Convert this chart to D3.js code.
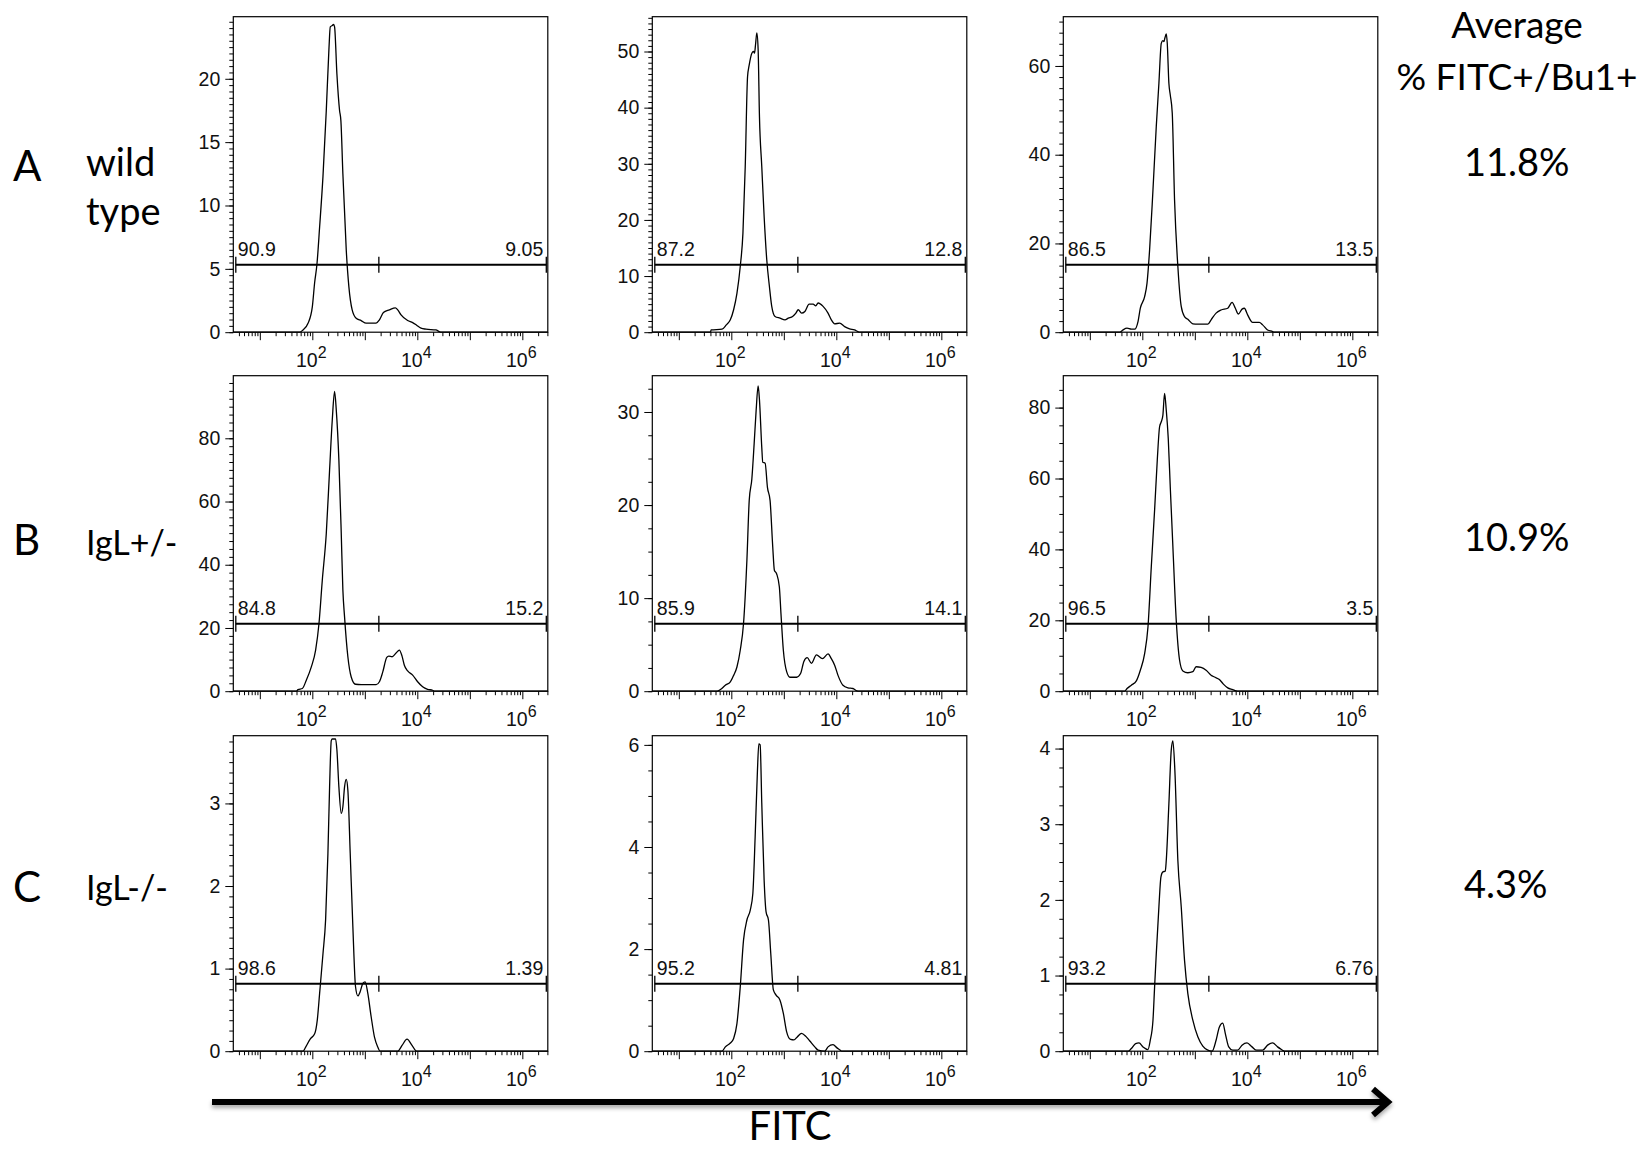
<!DOCTYPE html>
<html>
<head>
<meta charset="utf-8">
<script src="https://cdn.jsdelivr.net/npm/d3@7"></script>
<style>
  html, body { margin: 0; padding: 0; background: #fff; }
  svg { display: block; }
</style>
</head>
<body>
<svg id="fig" width="1641" height="1149"></svg>
<script>
// ---------- data ----------
// Histogram traces: FITC intensity (log10) and cell count, one pair per sample.
// Row A: wild type
const a1Log = [1.76, 1.823, 1.918, 2.0, 2.044, 2.089, 2.139, 2.203, 2.266, 2.316, 2.342, 2.380, 2.405, 2.424, 2.468, 2.519, 2.544, 2.582, 2.646, 2.696, 2.759, 2.835, 2.930, 3.025, 3.215, 3.278, 3.354, 3.468, 3.582, 3.627, 3.690, 3.816, 3.911, 3.987, 4.070, 4.165, 4.354, 4.418, 4.45];
const a1Count = [0, 0.18, 0.7, 2.0, 3.9, 5.4, 8.3, 12.3, 17.5, 22.3, 24.1, 24.2, 24.3, 24.1, 20.4, 17.5, 16.7, 12.5, 6.5, 3.6, 1.76, 1.1, 0.92, 0.71, 0.71, 0.97, 1.55, 1.76, 1.92, 1.76, 1.37, 0.92, 0.76, 0.55, 0.32, 0.24, 0.18, 0.05, 0];
const a2Log = [1.603, 1.615, 1.823, 1.905, 1.981, 2.044, 2.107, 2.170, 2.221, 2.265, 2.309, 2.341, 2.391, 2.423, 2.442, 2.461, 2.486, 2.511, 2.536, 2.580, 2.625, 2.675, 2.726, 2.770, 2.833, 2.927, 3.022, 3.085, 3.167, 3.230, 3.274, 3.338, 3.401, 3.483, 3.558, 3.609, 3.653, 3.748, 3.842, 3.905, 3.968, 4.063, 4.158, 4.252, 4.347, 4.410, 4.44];
const a2Count = [0, 0.42, 0.53, 1.3, 2.2, 4.0, 6.9, 11.7, 17.6, 29.5, 45.5, 47.6, 49.7, 50.0, 49.7, 51.2, 53.3, 50.3, 38.4, 29.5, 20.6, 12.9, 8.1, 4.6, 2.8, 2.5, 2.2, 2.5, 2.8, 3.4, 4.0, 3.4, 3.7, 5.0, 5.0, 4.7, 5.2, 4.6, 3.4, 2.2, 1.5, 1.6, 1.0, 0.6, 0.4, 0.1, 0];
const a3Log = [1.57, 1.633, 1.709, 1.791, 1.854, 1.918, 1.962, 2.044, 2.089, 2.139, 2.203, 2.266, 2.316, 2.361, 2.392, 2.411, 2.430, 2.456, 2.475, 2.506, 2.532, 2.570, 2.614, 2.677, 2.741, 2.804, 2.867, 2.962, 3.057, 3.247, 3.310, 3.405, 3.5, 3.627, 3.709, 3.772, 3.829, 3.899, 3.943, 4.006, 4.101, 4.228, 4.291, 4.386, 4.481, 4.51];
const a3Count = [0, 0.53, 0.9, 0.68, 0.68, 2.4, 5.4, 8.0, 11.0, 18.6, 32.1, 46.4, 56.1, 65.1, 65.7, 65.5, 66.3, 67.2, 65.1, 56.1, 53.5, 49.4, 29.8, 14.8, 5.8, 3.5, 2.9, 1.9, 1.8, 1.8, 2.8, 4.3, 5.0, 5.4, 6.7, 5.4, 4.1, 5.2, 5.4, 3.9, 2.2, 2.2, 1.65, 0.5, 0.15, 0];
// Row B: IgL+/-
const b1Log = [1.696, 1.728, 1.81, 1.886, 1.981, 2.063, 2.127, 2.19, 2.266, 2.329, 2.38, 2.424, 2.456, 2.506, 2.551, 2.582, 2.614, 2.677, 2.741, 2.823, 2.93, 3.215, 3.278, 3.342, 3.418, 3.456, 3.519, 3.595, 3.658, 3.709, 3.753, 3.816, 3.911, 4.006, 4.101, 4.196, 4.291, 4.33];
const b1Count = [0, 0.5, 0.85, 3.5, 7.7, 13.0, 21.4, 35.1, 49.9, 70.0, 85.8, 94.8, 89.0, 73.1, 49.9, 32.0, 23.5, 10.9, 4.5, 2.2, 2.1, 2.1, 3.0, 6.1, 10.7, 11.1, 10.9, 12.1, 13.0, 11.1, 8.2, 6.4, 5.1, 3.0, 1.4, 0.6, 0.3, 0];
const b2Log = [1.729, 1.792, 1.886, 1.981, 2.044, 2.107, 2.170, 2.233, 2.297, 2.341, 2.391, 2.435, 2.473, 2.511, 2.536, 2.58, 2.599, 2.644, 2.688, 2.738, 2.789, 2.82, 2.864, 2.915, 2.946, 2.991, 3.054, 3.117, 3.243, 3.319, 3.382, 3.445, 3.527, 3.621, 3.735, 3.842, 3.905, 3.968, 4.032, 4.126, 4.221, 4.315, 4.391, 4.42];
const b2Count = [0, 0.18, 0.64, 1.0, 1.7, 2.6, 4.4, 7.3, 14.1, 20.5, 22.8, 26.6, 30.2, 32.8, 31.3, 26.2, 24.6, 24.5, 21.9, 20.5, 15.5, 13.0, 12.6, 11.2, 8.3, 4.4, 2.1, 1.5, 1.5, 1.9, 3.2, 3.6, 3.0, 3.9, 3.5, 4.0, 3.5, 2.8, 1.7, 0.64, 0.36, 0.29, 0.04, 0];
const b3Log = [1.665, 1.709, 1.791, 1.886, 1.962, 2.044, 2.108, 2.171, 2.234, 2.285, 2.329, 2.361, 2.392, 2.424, 2.456, 2.494, 2.532, 2.582, 2.646, 2.709, 2.772, 2.867, 2.962, 3.025, 3.12, 3.215, 3.31, 3.373, 3.468, 3.544, 3.627, 3.722, 3.785, 3.82];
const b3Count = [0, 0.75, 1.7, 2.9, 5.9, 10.6, 18.2, 35.1, 51.1, 65.2, 74.6, 76.0, 77.9, 84.0, 79.3, 71.3, 57.7, 40.8, 20.0, 8.8, 5.7, 5.2, 5.5, 6.9, 6.7, 5.9, 4.5, 4.0, 3.3, 2.0, 0.94, 0.47, 0.1, 0];
// Row C: IgL-/-
const c1Log = [1.823, 1.873, 1.962, 2.044, 2.095, 2.139, 2.203, 2.253, 2.297, 2.329, 2.361, 2.38, 2.443, 2.468, 2.506, 2.551, 2.582, 2.614, 2.646, 2.677, 2.722, 2.772, 2.823, 2.867, 2.911, 2.962, 3.006, 3.057, 3.12, 3.184, 3.247, 3.291, 3.627, 3.709, 3.804, 3.899, 3.987];
const c1Count = [0, 0.05, 0.15, 0.21, 0.38, 0.70, 1.18, 1.59, 2.39, 3.20, 3.76, 3.78, 3.78, 3.65, 3.20, 2.88, 2.96, 3.20, 3.29, 3.16, 2.39, 1.51, 0.78, 0.67, 0.72, 0.82, 0.84, 0.70, 0.42, 0.17, 0.05, 0, 0, 0.07, 0.145, 0.07, 0];
const c2Log = [1.823, 1.886, 1.981, 2.044, 2.107, 2.170, 2.233, 2.297, 2.36, 2.41, 2.454, 2.498, 2.524, 2.549, 2.58, 2.625, 2.662, 2.707, 2.751, 2.801, 2.852, 2.927, 2.991, 3.054, 3.129, 3.192, 3.256, 3.338, 3.42, 3.495, 3.59, 3.653, 3.779, 3.842, 3.937, 4.013, 4.076, 4.10];
const c2Count = [0, 0.085, 0.16, 0.25, 0.54, 1.26, 2.18, 2.57, 2.76, 3.09, 4.20, 5.51, 6.02, 6.0, 4.86, 3.35, 2.73, 2.57, 1.92, 1.20, 1.10, 1.0, 0.74, 0.38, 0.23, 0.22, 0.28, 0.35, 0.29, 0.20, 0.085, 0.02, 0, 0.085, 0.13, 0.065, 0.02, 0];
const c3Log = [1.728, 1.791, 1.873, 1.937, 2.013, 2.108, 2.152, 2.203, 2.234, 2.266, 2.316, 2.354, 2.392, 2.437, 2.456, 2.506, 2.551, 2.582, 2.62, 2.677, 2.741, 2.804, 2.867, 2.962, 3.057, 3.152, 3.247, 3.329, 3.405, 3.468, 3.532, 3.582, 3.646, 3.722, 3.816, 3.899, 3.994, 4.089, 4.177, 4.291, 4.386, 4.481, 4.576, 4.671, 4.70];
const c3Count = [0, 0.035, 0.10, 0.11, 0.057, 0.022, 0.145, 0.41, 0.85, 1.29, 1.91, 2.30, 2.37, 2.38, 2.52, 3.27, 3.98, 4.10, 3.71, 2.52, 1.91, 1.20, 0.76, 0.41, 0.19, 0.066, 0.013, 0, 0.145, 0.32, 0.37, 0.23, 0.057, 0.013, 0.013, 0.08, 0.11, 0.057, 0.013, 0.013, 0.08, 0.11, 0.057, 0.013, 0];

// Y-axis range, major and minor tick steps per panel (rows A, B, C)
const yMaxes    = [[24.9, 56.2, 71.1], [99.8, 33.9, 89.0], [3.82, 6.18, 4.17]];
const yMajor    = [[5, 10, 20], [20, 10, 20], [1, 2, 1]];
const yMinor    = [[0.5, 1, 2.5], [2.5, 2.5, 5], [0.125, 0.5, 0.25]];

// Gate: split point on FITC and the % of events on each side
const gateSplit = 1850;
const gateLow   = [["90.9", "87.2", "86.5"], ["84.8", "85.9", "96.5"], ["98.6", "95.2", "93.2"]];
const gateHigh  = [["9.05", "12.8", "13.5"], ["15.2", "14.1", "3.5"], ["1.39", "4.81", "6.76"]];

// Row annotations
const rowLetters   = ["A", "B", "C"];
const genotypes    = [["wild", "type"], ["IgL+/-"], ["IgL-/-"]];
const averageTitle = ["Average", "% FITC+/Bu1+"];
const averages     = ["11.8%", "10.9%", "4.3%"];
const axisTitle    = "FITC";
const xLabelPowers = [2, 4, 6];
const xDecades     = [1, 2, 3, 4, 5, 6];
const xDomainLog   = [0.495, 6.485];

const traces = [
  [[a1Log, a1Count], [a2Log, a2Count], [a3Log, a3Count]],
  [[b1Log, b1Count], [b2Log, b2Count], [b3Log, b3Count]],
  [[c1Log, c1Count], [c2Log, c2Count], [c3Log, c3Count]]
];

// ---------- layout ----------
const colLeft = [233.3, 652.3, 1063.3];
const rowTop  = [16.7, 375.7, 735.7];
const plotW = 314.5, plotH = 315.5;
const gateRaise = 67.5;          // gate bar height above the x axis (px)
const tickFont = "'Liberation Sans', Arial, sans-serif";
const labelFont = "Lato, 'Open Sans', sans-serif";

const svg = d3.select("#fig");

const defs = svg.append("defs");
const shadow = defs.append("filter").attr("id", "arrowShadow")
  .attr("x", "-5%").attr("y", "-200%").attr("width", "110%").attr("height", "500%");
shadow.append("feDropShadow").attr("dx", 0).attr("dy", 3).attr("stdDeviation", 2)
  .attr("flood-color", "#000").attr("flood-opacity", 0.35);

const x = d3.scaleLog()
  .domain(xDomainLog.map(v => Math.pow(10, v)))
  .range([0, plotW]);

// minor log ticks (2..9 x 10^k) inside the domain
const xMinorTicks = [];
for (let e = 0; e <= 6; e++) {
  for (let k = 2; k <= 9; k++) {
    const v = k * Math.pow(10, e);
    if (v >= x.domain()[0] && v <= x.domain()[1]) xMinorTicks.push(v);
  }
}

function drawPanel(r, c) {
  const [logs, counts] = traces[r][c];
  const yMax = yMaxes[r][c];
  const y = d3.scaleLinear().domain([0, yMax]).range([plotH, 0]);
  const g = svg.append("g").attr("transform", `translate(${colLeft[c]},${rowTop[r]})`);

  // histogram trace, running along the baseline across the full range
  const pts = [[x.domain()[0], 0]]
    .concat(logs.map((l, i) => [Math.pow(10, l), counts[i]]))
    .concat([[x.domain()[1], 0]]);
  const line = d3.line()
    .x(d => x(d[0]))
    .y(d => y(d[1]))
    .curve(d3.curveMonotoneX);
  g.append("path").attr("d", line(pts))
    .attr("fill", "none").attr("stroke", "#000").attr("stroke-width", 1.3)
    .attr("stroke-linejoin", "round");

  // y axis: minor then major ticks
  const minorVals = d3.range(0, yMax + 1e-9, yMinor[r][c]);
  const majorVals = d3.range(0, yMax + 1e-9, yMajor[r][c]);
  const yMinorAxis = d3.axisLeft(y).tickValues(minorVals).tickSize(4).tickSizeOuter(0).tickFormat("");
  const yMajorAxis = d3.axisLeft(y).tickValues(majorVals).tickSize(8).tickSizeOuter(0).tickPadding(5)
    .tickFormat(d3.format("d"));
  [yMinorAxis, yMajorAxis].forEach(ax => {
    const a = g.append("g").call(ax);
    a.select(".domain").remove();
    a.selectAll("line").attr("stroke", "#000").attr("stroke-width", 1);
    a.selectAll("text").attr("font-family", tickFont).attr("font-size", 19.5).attr("fill", "#111");
  });

  // x axis: minor then decade ticks, labels on even powers
  const xMinorAxis = d3.axisBottom(x).tickValues(xMinorTicks).tickSize(4).tickSizeOuter(0).tickFormat("");
  const xMajorAxis = d3.axisBottom(x).tickValues(xDecades.map(e => Math.pow(10, e))).tickSize(8).tickSizeOuter(0).tickFormat("");
  [xMinorAxis, xMajorAxis].forEach(ax => {
    const a = g.append("g").attr("transform", `translate(0,${plotH})`).call(ax);
    a.select(".domain").remove();
    a.selectAll("line").attr("stroke", "#000").attr("stroke-width", 1);
  });
  xLabelPowers.forEach(p => {
    const t = g.append("text")
      .attr("x", x(Math.pow(10, p)) - 1)
      .attr("y", plotH + 34.4)
      .attr("text-anchor", "middle")
      .attr("font-family", tickFont).attr("font-size", 19.5).attr("fill", "#111");
    t.append("tspan").text("10");
    t.append("tspan").attr("dy", -8.5).attr("font-size", 16).text(p);
  });

  // frame
  g.append("rect").attr("x", 0).attr("y", 0).attr("width", plotW).attr("height", plotH)
    .attr("fill", "none").attr("stroke", "#000").attr("stroke-width", 1.2);

  // gate bar
  const gy = plotH - gateRaise;
  const gx0 = x.range()[0] + 2.5, gx1 = x.range()[1] - 1.5, gxs = x(gateSplit);
  const gate = g.append("g").attr("stroke", "#000");
  gate.append("line").attr("x1", gx0).attr("x2", gx1).attr("y1", gy).attr("y2", gy).attr("stroke-width", 2);
  [gx0, gxs, gx1].forEach(px => {
    gate.append("line").attr("x1", px).attr("x2", px).attr("y1", gy - 8).attr("y2", gy + 8).attr("stroke-width", 1.3);
  });
  g.append("text").attr("x", gx0 + 2).attr("y", gy - 9)
    .attr("font-family", tickFont).attr("font-size", 19.5).attr("fill", "#111")
    .text(gateLow[r][c]);
  g.append("text").attr("x", gx1 - 3).attr("y", gy - 9).attr("text-anchor", "end")
    .attr("font-family", tickFont).attr("font-size", 19.5).attr("fill", "#111")
    .text(gateHigh[r][c]);
}

for (let r = 0; r < 3; r++) for (let c = 0; c < 3; c++) drawPanel(r, c);

// ---------- row labels ----------
const letterBase = [181, 555, 902];
const genoBase   = [176, 555, 900];
const genoSize   = [38, 34, 34];
rowLetters.forEach((L, i) => {
  svg.append("text").attr("x", 13).attr("y", letterBase[i])
    .attr("font-family", labelFont).attr("font-size", 42).attr("fill", "#000").text(L);
  genotypes[i].forEach((line, j) => {
    svg.append("text").attr("x", 86).attr("y", genoBase[i] + j * 49)
      .attr("font-family", labelFont).attr("font-size", genoSize[i]).attr("fill", "#000").text(line);
  });
});

// ---------- average column ----------
svg.append("text").attr("x", 1517).attr("y", 37.5).attr("text-anchor", "middle")
  .attr("font-family", labelFont).attr("font-size", 37).attr("fill", "#000").text(averageTitle[0]);
svg.append("text").attr("x", 1517).attr("y", 90).attr("text-anchor", "middle")
  .attr("font-family", labelFont).attr("font-size", 37).attr("fill", "#000").text(averageTitle[1]);
const avgBase = [176, 551, 897.5];
averages.forEach((a, i) => {
  svg.append("text").attr("x", 1464).attr("y", avgBase[i])
    .attr("font-family", labelFont).attr("font-size", 38).attr("fill", "#000").text(a);
});

// ---------- FITC arrow ----------
const arrow = svg.append("g").attr("filter", "url(#arrowShadow)")
  .attr("stroke", "#000").attr("fill", "none").attr("stroke-width", 6);
arrow.append("line").attr("x1", 212).attr("x2", 1386).attr("y1", 1102).attr("y2", 1102);
arrow.append("path").attr("d", "M1373,1089 L1388,1102 L1373,1115")
  .attr("stroke-linejoin", "miter").attr("stroke-linecap", "butt");
svg.append("text").attr("x", 790).attr("y", 1140).attr("text-anchor", "middle")
  .attr("font-family", labelFont).attr("font-size", 40).attr("fill", "#000").text(axisTitle);
</script>
</body>
</html>
